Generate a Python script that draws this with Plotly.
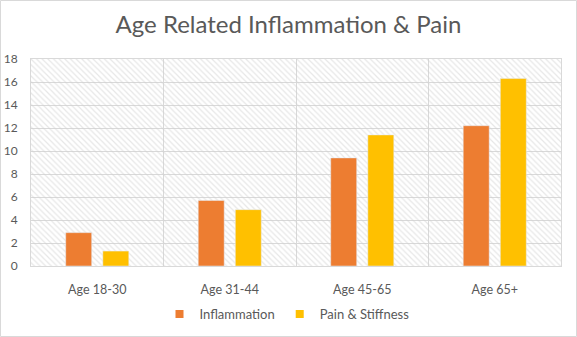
import plotly.graph_objects as go

categories = ["Age 18-30", "Age 31-44", "Age 45-65", "Age 65+"]
inflammation = [2.9, 5.7, 9.4, 12.2]
pain_stiffness = [1.3, 4.9, 11.4, 16.3]
y_ticks = [0, 2, 4, 6, 8, 10, 12, 14, 16, 18]
series_names = ["Inflammation", "Pain & Stiffness"]
series_colors = ["#ED7D31", "#FFC000"]

W, H = 577, 337
ML, MR, MT, MB = 31, 16, 59, 71
PW, PH = W - ML - MR, H - MT - MB

FONT = "Lato"
TXT = "#595959"
GRID = "#d9d9d9"

fig = go.Figure()

# background hatch (decorative) on base axes
fig.add_trace(go.Scatter(
    x=[0, 1, 1, 0, 0], y=[0, 0, 1, 1, 0], xaxis="x", yaxis="y",
    mode="lines", line=dict(width=0), fill="toself", fillcolor="rgba(0,0,0,0)",
    fillpattern=dict(shape="\\", fgcolor="#cfcfcf", bgcolor="rgba(255,255,255,0)",
                     size=4, solidity=0.3),
    hoverinfo="skip", showlegend=False,
))

for name, vals, col in zip(series_names, [inflammation, pain_stiffness], series_colors):
    fig.add_trace(go.Bar(name=name, x=categories, y=vals, marker_color=col,
                         xaxis="x2", yaxis="y2", showlegend=False, legendgroup=name))
# legend entries with small square keys
for name, col in zip(series_names, series_colors):
    fig.add_trace(go.Scatter(name=name, x=[None], y=[None], mode="markers",
                             marker=dict(symbol="square", size=8, color=col),
                             xaxis="x2", yaxis="y2", legendgroup=name))

fig.update_layout(
    width=W, height=H,
    margin=dict(l=ML, r=MR, t=MT, b=MB, autoexpand=False),
    paper_bgcolor="white", plot_bgcolor="white",
    font=dict(family=FONT, color=TXT, size=12),
    title=dict(text="Age Related Inflammation & Pain", x=0.5, xref="container",
               xanchor="center", y=1 - 25 / H, yanchor="middle",
               font=dict(family=FONT, size=24, color=TXT)),
    barmode="group", bargap=0.44, bargroupgap=0.3,
    xaxis=dict(range=[0, 1], visible=False, fixedrange=True),
    yaxis=dict(range=[0, 1], visible=False, fixedrange=True),
    xaxis2=dict(overlaying="x", type="category", range=[-0.5, 3.5],
                tickson="boundaries", showgrid=True, gridcolor=GRID, gridwidth=1,
                ticks="", showline=True, linecolor=GRID, mirror=True, automargin=False,
                tickfont=dict(size=12.5, color=TXT), ticklabelstandoff=12),
    yaxis2=dict(overlaying="y", range=[0, 18], tickvals=y_ticks,
                showgrid=True, gridcolor=GRID, gridwidth=1, zeroline=False,
                ticks="", showline=True, linecolor=GRID, mirror=True, automargin=False,
                tickfont=dict(size=12, color=TXT), ticklabelstandoff=10),
    legend=dict(orientation="h", x=0.5 - 9 / PW, xanchor="center", y=-(314 - 266) / PH,
                yanchor="middle", font=dict(size=13, color=TXT),
                itemwidth=30, traceorder="normal"),
    shapes=[dict(type="rect", xref="paper", yref="paper",
                 x0=-(ML - 0.5) / PW, x1=1 + (MR - 0.5) / PW,
                 y0=-(MB - 0.5) / PH, y1=1 + (MT - 0.5) / PH,
                 line=dict(color=GRID, width=1), layer="below")],
)

fig.write_html("out.html")
